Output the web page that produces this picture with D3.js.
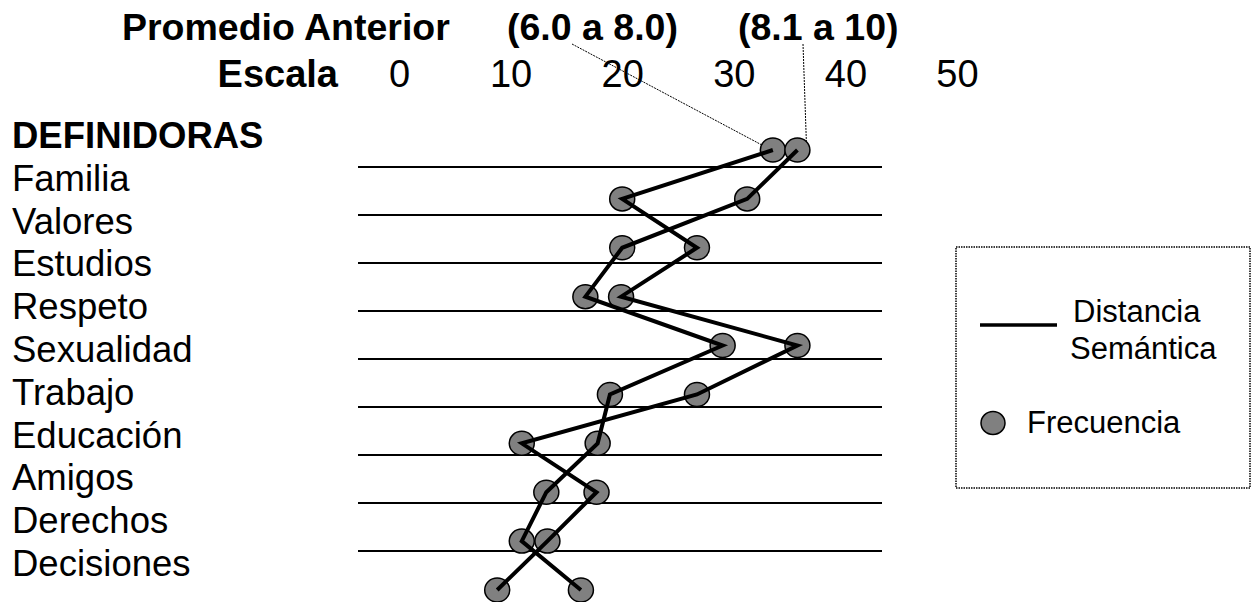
<!DOCTYPE html>
<html>
<head>
<meta charset="utf-8">
<script src="https://cdn.jsdelivr.net/npm/d3@7"></script>
<style>
  html, body { margin: 0; padding: 0; background: #fff; }
  svg { display: block; font-family: "Liberation Sans", Arial, sans-serif; }
</style>
</head>
<body>
<svg id="chart" width="1252" height="602"></svg>
<script>
// ---- data ----
const categories = ["Familia", "Valores", "Estudios", "Respeto", "Sexualidad",
                    "Trabajo", "Educación", "Amigos", "Derechos", "Decisiones"];
const seriesNames = ["(6.0 a 8.0)", "(8.1 a 10)"];
// Values on the "Escala" (0-50)
const serieBaja = [33.5, 20.0, 26.7, 19.9, 35.7, 26.7, 11.0, 17.7, 13.3, 8.8];   // 6.0 a 8.0
const serieAlta = [35.7, 31.2, 20.0, 16.7, 29.0, 18.9, 17.8, 13.2, 11.0, 16.3];  // 8.1 a 10
const scaleTicks = [0, 10, 20, 30, 40, 50];
const titleLabel = "Promedio Anterior";
const scaleLabel = "Escala";
const groupLabel = "DEFINIDORAS";
const legendItems = ["Distancia", "Semántica", "Frecuencia"];

// ---- layout ----
const svg = d3.select("#chart");
const x = d3.scaleLinear().domain([0, 50]).range([399, 957]);
const y = d3.scalePoint().domain(categories).range([150, 590]);
const gridIdx = d3.range(categories.length - 1);
const yGrid = d3.scaleLinear().domain([0, gridIdx.length - 1]).range([167, 551]);
const yLabel = d3.scaleLinear().domain([0, categories.length]).range([148, 576]);

const HEAD = 37.5, TICK = 38, LAB = 36.5, LEG = 31;

// header
svg.append("text").attr("x", 122).attr("y", 40)
  .attr("font-size", HEAD).attr("font-weight", "bold").text(titleLabel);
const seriesX = [507, 738];
svg.selectAll("text.sname").data(seriesNames).join("text")
  .attr("class", "sname")
  .attr("x", (d, i) => seriesX[i]).attr("y", 40)
  .attr("font-size", HEAD).attr("font-weight", "bold").text(d => d);

svg.append("text").attr("x", 338).attr("y", 87).attr("text-anchor", "end")
  .attr("font-size", TICK).attr("font-weight", "bold").text(scaleLabel);

// axis (tick labels only)
const axis = d3.axisTop(x).tickValues(scaleTicks).tickSize(0).tickPadding(0);
const gAxis = svg.append("g").attr("transform", "translate(0,87)").call(axis);
gAxis.select(".domain").remove();
gAxis.selectAll("text").attr("font-size", TICK)
  .attr("font-family", "Liberation Sans, Arial, sans-serif")
  .attr("fill", "#000").attr("dy", 0);

// row labels
svg.append("text").attr("x", 12).attr("y", yLabel(0))
  .attr("font-size", LAB).attr("font-weight", "bold").text(groupLabel);
svg.selectAll("text.cat").data(categories).join("text")
  .attr("class", "cat")
  .attr("x", 12).attr("y", (d, i) => yLabel(i + 1))
  .attr("font-size", LAB).text(d => d);

// horizontal rules
svg.selectAll("line.rule").data(gridIdx).join("line")
  .attr("class", "rule")
  .attr("x1", 358).attr("x2", 882)
  .attr("y1", d => yGrid(d)).attr("y2", d => yGrid(d))
  .attr("stroke", "#000").attr("stroke-width", 2);

// leader lines from series labels to first points
const leaders = [
  { x1: 572, y1: 44, x2: x(serieBaja[0]) - 11, y2: y(categories[0]) - 5 },
  { x1: 803, y1: 44, x2: x(serieAlta[0]) + 9, y2: y(categories[0]) - 7 }
];
svg.selectAll("line.leader").data(leaders).join("line")
  .attr("class", "leader")
  .attr("x1", d => d.x1).attr("y1", d => d.y1)
  .attr("x2", d => d.x2).attr("y2", d => d.y2)
  .attr("stroke", "#000").attr("stroke-width", 1)
  .attr("stroke-dasharray", "2,1");

// points
const pts = [];
categories.forEach((c, i) => {
  pts.push({ c, v: serieBaja[i] });
  pts.push({ c, v: serieAlta[i] });
});
svg.selectAll("ellipse.pt").data(pts).join("ellipse")
  .attr("class", "pt")
  .attr("cx", d => x(d.v)).attr("cy", d => y(d.c))
  .attr("rx", 12.5).attr("ry", 12)
  .attr("fill", "#808080").attr("stroke", "#000").attr("stroke-width", 1.5);

// connecting lines
const line = d3.line().x(d => x(d.v)).y(d => y(d.c));
[serieBaja, serieAlta].forEach(s => {
  svg.append("path")
    .datum(categories.map((c, i) => ({ c, v: s[i] })))
    .attr("d", line)
    .attr("fill", "none").attr("stroke", "#000").attr("stroke-width", 4)
    .attr("stroke-linejoin", "miter");
});

// legend
const lg = svg.append("g");
lg.append("rect").attr("x", 956).attr("y", 247).attr("width", 294).attr("height", 241)
  .attr("fill", "none").attr("stroke", "#000").attr("stroke-width", 1.5)
  .attr("stroke-dasharray", "1.5,1");
lg.append("line").attr("x1", 980).attr("x2", 1057).attr("y1", 325).attr("y2", 325)
  .attr("stroke", "#000").attr("stroke-width", 3.3);
lg.append("text").attr("x", 1073).attr("y", 322).attr("font-size", LEG).text(legendItems[0]);
lg.append("text").attr("x", 1070).attr("y", 359).attr("font-size", LEG).text(legendItems[1]);
lg.append("ellipse").attr("cx", 993).attr("cy", 423).attr("rx", 12).attr("ry", 11.5)
  .attr("fill", "#808080").attr("stroke", "#000").attr("stroke-width", 1.5);
lg.append("text").attr("x", 1027).attr("y", 433).attr("font-size", LEG).text(legendItems[2]);
</script>
</body>
</html>
